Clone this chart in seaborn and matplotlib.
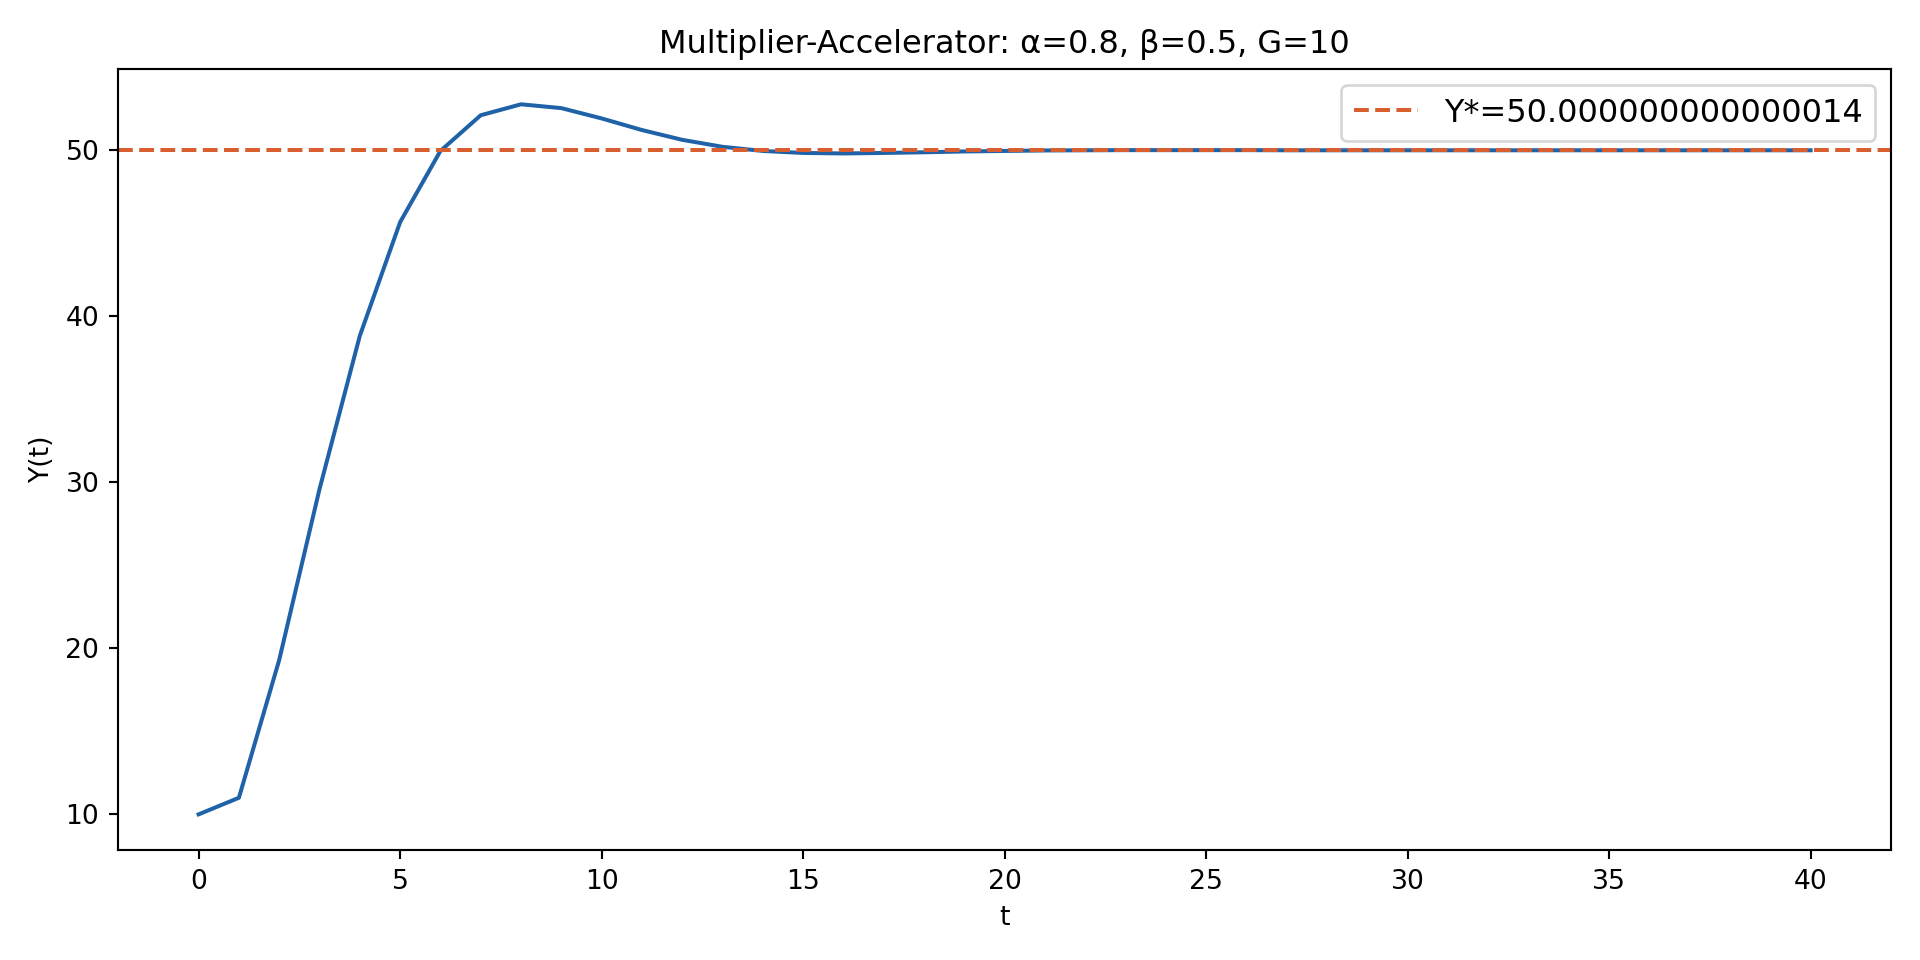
import numpy as np
import pandas as pd
import matplotlib
matplotlib.use("Agg")
import matplotlib.pyplot as plt
import seaborn as sns

# parâmetros do modelo (só para o título e a legenda)
alpha = 0.8
beta = 0.5
G = 10
y_star_label = "50.000000000000014"
y_star = 50.0

# série
t = list(range(41))
Y = [10.0, 11.0, 19.3, 29.59, 38.82, 45.67, 49.96, 52.11, 52.77, 52.54,
     51.92, 51.22, 50.63, 50.21, 49.96, 49.84, 49.81, 49.84, 49.88, 49.93,
     49.96, 49.99, 50.00, 50.01, 50.01, 50.01, 50.01, 50.00, 50.00, 50.00,
     50.00, 50.00, 50.00, 50.00, 50.00, 50.00, 50.00, 50.00, 50.00, 50.00,
     50.00]

df = pd.DataFrame({"t": t, "Y": Y})

fig, ax = plt.subplots(figsize=(10, 5), dpi=192)
sns.lineplot(data=df, x="t", y="Y", ax=ax, color="#1f62a8", linewidth=1.5)
ax.axhline(y_star, color="#d95f30", linestyle="--", linewidth=1.5,
           label=f"Y*={y_star_label}")

ax.set_title(f"Multiplier-Accelerator: α={alpha}, β={beta}, G={G}")
ax.set_xlabel("t")
ax.set_ylabel("Y(t)")
ax.legend(fontsize=12)

plt.tight_layout()
plt.savefig("out.png")
